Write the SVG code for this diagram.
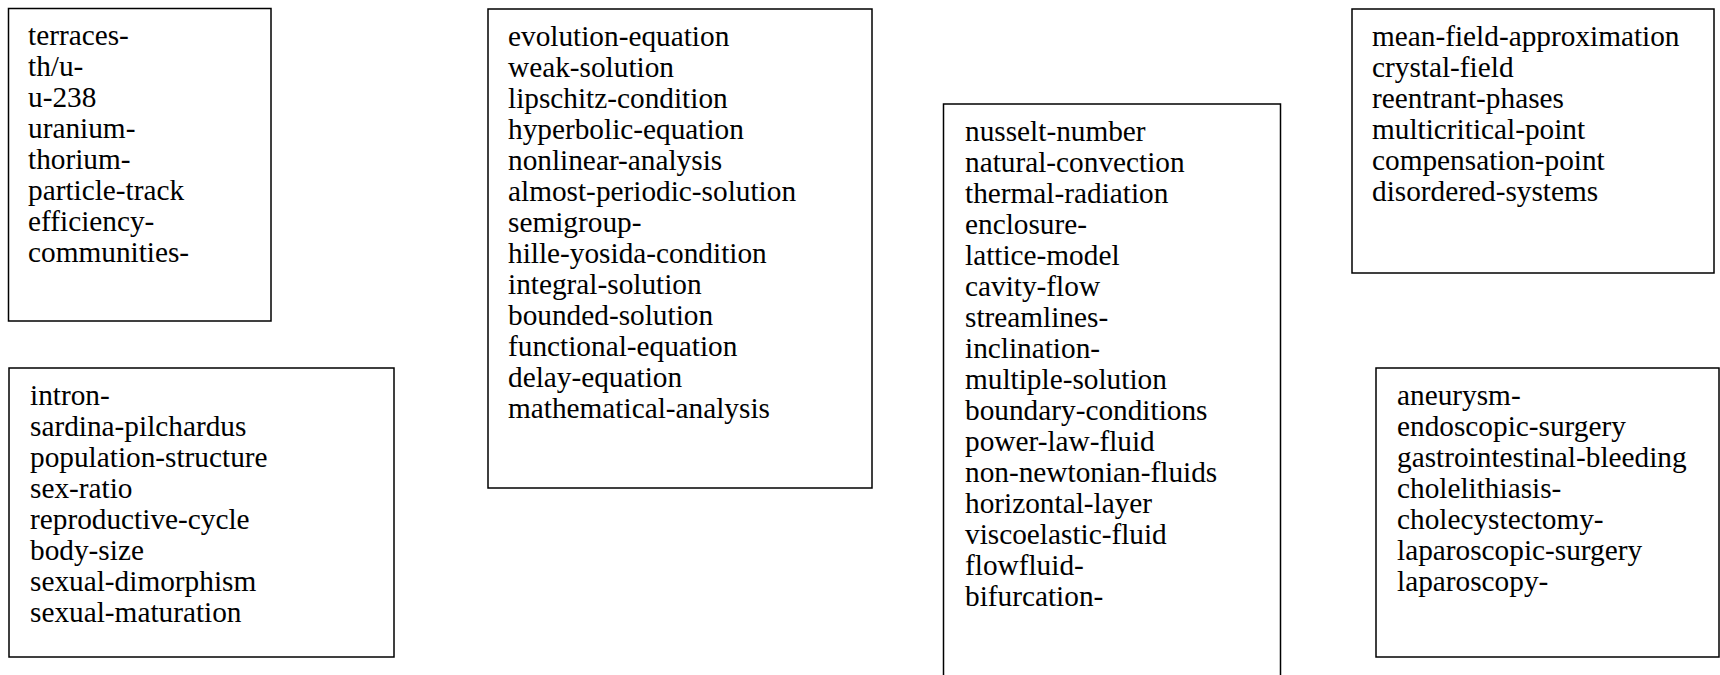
<svg xmlns="http://www.w3.org/2000/svg" width="1720" height="675" viewBox="0 0 1720 675">
<style>
rect.box{fill:#fff;stroke:#000;stroke-width:1.5}
text{font-family:"Liberation Serif","Times New Roman",serif;font-size:29.3px;fill:#000}
</style>
<rect width="1720" height="675" fill="#fff"/>
<g id="node1">
<rect class="box" x="8.5" y="8.5" width="262.5" height="312.5"/>
<text x="28" y="45">terraces-</text>
<text x="28" y="76">th/u-</text>
<text x="28" y="107">u-238</text>
<text x="28" y="138">uranium-</text>
<text x="28" y="169">thorium-</text>
<text x="28" y="200">particle-track</text>
<text x="28" y="231">efficiency-</text>
<text x="28" y="262">communities-</text>
</g>
<g id="node2">
<rect class="box" x="9" y="368" width="385" height="289"/>
<text x="30" y="405">intron-</text>
<text x="30" y="436">sardina-pilchardus</text>
<text x="30" y="467">population-structure</text>
<text x="30" y="498">sex-ratio</text>
<text x="30" y="529">reproductive-cycle</text>
<text x="30" y="560">body-size</text>
<text x="30" y="591">sexual-dimorphism</text>
<text x="30" y="622">sexual-maturation</text>
</g>
<g id="node3">
<rect class="box" x="488" y="9" width="384" height="479"/>
<text x="508" y="46">evolution-equation</text>
<text x="508" y="77">weak-solution</text>
<text x="508" y="108">lipschitz-condition</text>
<text x="508" y="139">hyperbolic-equation</text>
<text x="508" y="170">nonlinear-analysis</text>
<text x="508" y="201">almost-periodic-solution</text>
<text x="508" y="232">semigroup-</text>
<text x="508" y="263">hille-yosida-condition</text>
<text x="508" y="294">integral-solution</text>
<text x="508" y="325">bounded-solution</text>
<text x="508" y="356">functional-equation</text>
<text x="508" y="387">delay-equation</text>
<text x="508" y="418">mathematical-analysis</text>
</g>
<g id="node4">
<rect class="box" x="943.5" y="104" width="337" height="580"/>
<text x="965" y="141">nusselt-number</text>
<text x="965" y="172">natural-convection</text>
<text x="965" y="203">thermal-radiation</text>
<text x="965" y="234">enclosure-</text>
<text x="965" y="265">lattice-model</text>
<text x="965" y="296">cavity-flow</text>
<text x="965" y="327">streamlines-</text>
<text x="965" y="358">inclination-</text>
<text x="965" y="389">multiple-solution</text>
<text x="965" y="420">boundary-conditions</text>
<text x="965" y="451">power-law-fluid</text>
<text x="965" y="482">non-newtonian-fluids</text>
<text x="965" y="513">horizontal-layer</text>
<text x="965" y="544">viscoelastic-fluid</text>
<text x="965" y="575">flowfluid-</text>
<text x="965" y="606">bifurcation-</text>
</g>
<g id="node5">
<rect class="box" x="1352" y="9" width="362" height="264"/>
<text x="1372" y="46">mean-field-approximation</text>
<text x="1372" y="77">crystal-field</text>
<text x="1372" y="108">reentrant-phases</text>
<text x="1372" y="139">multicritical-point</text>
<text x="1372" y="170">compensation-point</text>
<text x="1372" y="201">disordered-systems</text>
</g>
<g id="node6">
<rect class="box" x="1376" y="368" width="343" height="289"/>
<text x="1397" y="405">aneurysm-</text>
<text x="1397" y="436">endoscopic-surgery</text>
<text x="1397" y="467">gastrointestinal-bleeding</text>
<text x="1397" y="498">cholelithiasis-</text>
<text x="1397" y="529">cholecystectomy-</text>
<text x="1397" y="560">laparoscopic-surgery</text>
<text x="1397" y="591">laparoscopy-</text>
</g>
<g id="connectors"></g>
</svg>
